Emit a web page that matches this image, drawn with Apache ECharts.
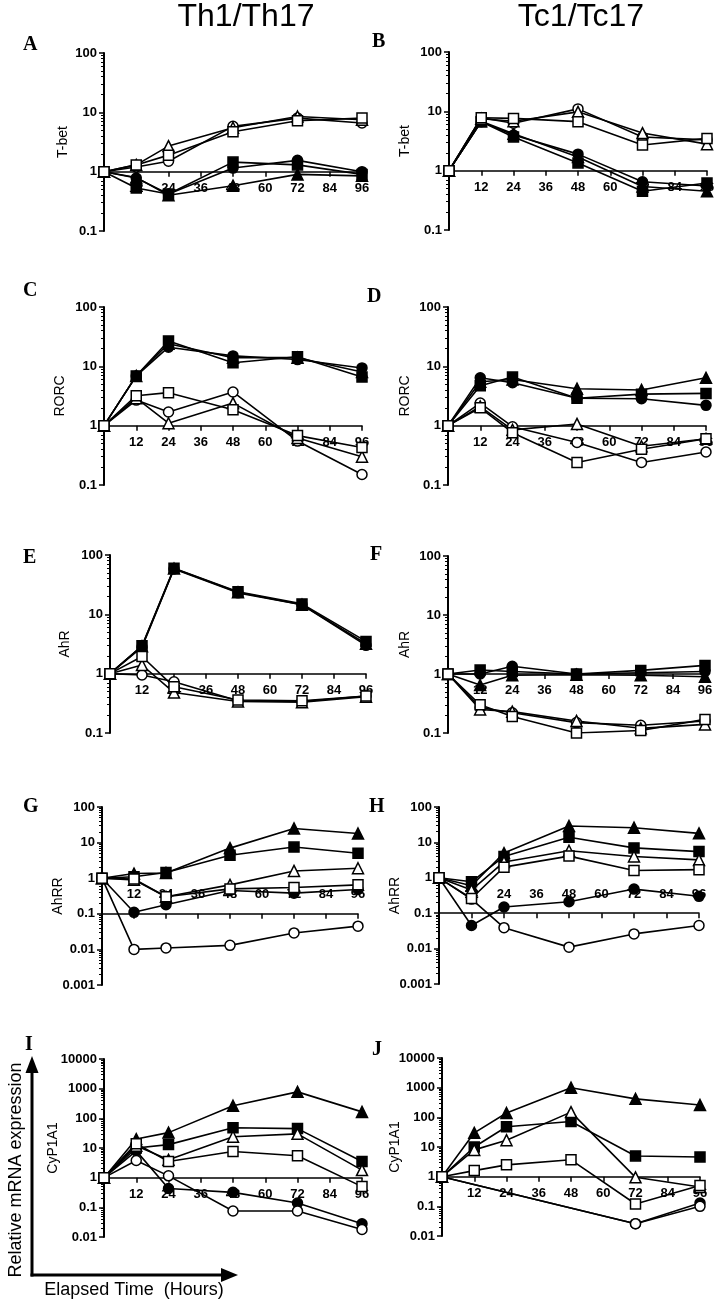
<!DOCTYPE html>
<html lang="en">
<head>
<meta charset="UTF-8">
<title>Relative mRNA expression</title>
<style>html,body{margin:0;padding:0;background:#fff;}</style>
</head>
<body>
<div id="main" style="width:725px;height:1306px;"></div>
<script src="https://cdn.jsdelivr.net/npm/echarts@6/dist/echarts.min.js"></script>
<script>
// elapsed time (hours)
var hours = [0, 12, 24, 48, 72, 96];

// row order in every panel: filled circle, open circle, filled square, open square, filled triangle, open triangle
var tbetTh = [
    [1, 0.78, 0.42, 1.15, 1.55, 1.0],
    [1, 1.2, 1.5, 5.8, 8.0, 6.6],
    [1, 0.53, 0.42, 1.45, 1.3, 0.9],
    [1, 1.3, 1.9, 4.7, 7.2, 8.0],
    [1, 0.8, 0.4, 0.58, 0.9, 0.85],
    [1, 1.3, 2.7, 5.5, 8.5, 7.5]
];
var tbetTc = [
    [1, 6.7, 4.0, 1.9, 0.65, 0.55],
    [1, 7.8, 6.3, 11, 3.7, 3.3],
    [1, 6.7, 3.7, 1.35, 0.45, 0.62],
    [1, 7.8, 7.6, 6.7, 2.7, 3.5],
    [1, 6.8, 4.2, 1.7, 0.54, 0.45],
    [1, 7.5, 6.8, 9.8, 4.3, 2.8]
];
var rorcTh = [
    [1, 6.9, 21, 15, 13, 9.4],
    [1, 2.7, 1.7, 3.7, 0.55, 0.15],
    [1, 6.9, 26.8, 11.5, 14.5, 6.6],
    [1, 3.2, 3.6, 1.85, 0.68, 0.43],
    [1, 6.9, 24, 14, 14, 8],
    [1, 2.9, 1.1, 2.4, 0.62, 0.3]
];
var rorcTc = [
    [1, 6.4, 5.3, 2.9, 2.85, 2.2],
    [1, 2.4, 0.96, 0.52, 0.24, 0.36],
    [1, 4.7, 6.6, 2.9, 3.4, 3.5],
    [1, 2.0, 0.76, 0.24, 0.4, 0.6],
    [1, 5.5, 6.0, 4.2, 4.0, 6.4],
    [1, 2.1, 0.85, 1.07, 0.45, 0.6]
];
var ahrTh = [
    [1, 2.8, 58, 23, 14.5, 3.0],
    [1, 0.95, 0.73, 0.35, 0.34, 0.42],
    [1, 2.95, 60, 24, 15, 3.5],
    [1, 1.95, 0.6, 0.36, 0.35, 0.42],
    [1, 2.9, 59, 23.5, 14.5, 3.2],
    [1, 1.4, 0.48, 0.34, 0.33, 0.41]
];
var ahrTc = [
    [1, 1.0, 1.35, 1.0, 1.05, 1.1],
    [1, 0.27, 0.22, 0.15, 0.135, 0.16],
    [1, 1.17, 1.1, 1.0, 1.15, 1.4],
    [1, 0.3, 0.19, 0.1, 0.11, 0.17],
    [1, 0.65, 0.95, 0.97, 0.95, 0.9],
    [1, 0.25, 0.23, 0.16, 0.12, 0.14]
];
var ahrrTh = [
    [1, 0.11, 0.18, 0.45, 0.38, 0.48],
    [1, 0.01, 0.011, 0.013, 0.029, 0.045],
    [1, 1.1, 1.45, 4.4, 7.5, 5],
    [1, 0.95, 0.3, 0.5, 0.55, 0.65],
    [1, 1.35, 1.4, 7, 25, 18],
    [1, 0.9, 0.3, 0.65, 1.6, 1.9]
];
var ahrrTc = [
    [1, 0.045, 0.15, 0.21, 0.48, 0.3],
    [1, 0.25, 0.039, 0.011, 0.026, 0.045],
    [1, 0.77, 4, 14, 7, 5.5],
    [1, 0.26, 2.0, 4.1, 1.6, 1.7],
    [1, 0.6, 5, 29, 26, 18],
    [1, 0.45, 2.8, 5.8, 4.0, 3.2]
];
var cypTh = [
    [1, 8, 0.43, 0.32, 0.14, 0.028],
    [1, 3.8, 1.15, 0.075, 0.075, 0.018],
    [1, 10, 13, 48, 45, 3.5],
    [1, 14, 3.5, 7.6, 5.5, 0.5],
    [1, 20, 33, 265, 780, 165],
    [1, 12, 4, 24, 30, 1.8]
];
var cypTc = [
    [1, null, null, null, 0.026, 0.13],
    [1, null, null, null, 0.026, 0.1],
    [1, 10, 48, 72, 5, 4.6],
    [1, 1.6, 2.5, 3.7, 0.12, 0.5],
    [1, 30, 140, 1000, 420, 260],
    [1, 8, 17, 150, 0.95, 0.45]
];

var panelData = [tbetTh, tbetTc, rorcTh, rorcTc, ahrTh, ahrTc, ahrrTh, ahrrTc, cypTh, cypTc];
var panelLetters = ['A', 'B', 'C', 'D', 'E', 'F', 'G', 'H', 'I', 'J'];
var geneNames = ['T-bet', 'T-bet', 'RORC', 'RORC', 'AhR', 'AhR', 'AhRR', 'AhRR', 'CyP1A1', 'CyP1A1'];
var yMins = [0.1, 0.1, 0.1, 0.1, 0.1, 0.1, 0.001, 0.001, 0.01, 0.01];
var yMaxs = [100, 100, 100, 100, 100, 100, 100, 100, 10000, 10000];
var columnTitles = ['Th1/Th17', 'Tc1/Tc17'];

// layout: [left, top, width, height] of each plot area, name gap, letter position
var rects = [
    [104, 53, 258, 178], [449, 52, 258, 178],
    [104, 307, 258, 178], [448, 307, 258, 178],
    [110, 555, 256, 178], [448, 556, 257, 177],
    [102, 807, 256, 178], [439, 807, 260, 177],
    [104, 1059, 258, 178], [442, 1058, 258, 178]
];
var nameGaps = [34, 37, 37, 36, 38, 36, 37, 37, 44, 40];
var letterPos = [[23, 45], [372, 42], [23, 291], [367, 297], [23, 558], [370, 555], [23, 807], [369, 807], [25, 1045], [372, 1050]];

var markers = [
    {symbol: 'circle', size: 10, fill: '#000'},
    {symbol: 'circle', size: 10, fill: '#fff'},
    {symbol: 'rect', size: 10, fill: '#000'},
    {symbol: 'rect', size: 10, fill: '#fff'},
    {symbol: 'triangle', size: 11, fill: '#000'},
    {symbol: 'triangle', size: 11, fill: '#fff'}
];
var drawOrder = [0, 2, 4, 1, 5, 3];

var myChart = echarts.init(document.getElementById('main'));

var grids = [], xAxes = [], yAxes = [], series = [];
var labelFont = {color: '#000', fontWeight: 'bold', fontSize: 13, fontFamily: '"Liberation Sans", Arial, sans-serif'};

panelData.forEach(function (rows, i) {
    var r = rects[i];
    grids.push({left: r[0], top: r[1], width: r[2], height: r[3], outerBoundsMode: 'none', containLabel: false});

    var lo = Math.log10(yMins[i]), hi = Math.log10(yMaxs[i]);
    // x axis crosses the y axis at 1
    var offset = -r[3] * (0 - lo) / (hi - lo);
    xAxes.push({
        type: 'value', gridIndex: i, min: 0, max: 96, interval: 12,
        position: 'bottom', offset: offset,
        axisLine: {show: true, lineStyle: {color: '#000', width: 1.5}},
        axisTick: {show: true, length: 5, lineStyle: {color: '#000', width: 1.5}},
        axisLabel: Object.assign({margin: 10, formatter: function (v) { return v === 0 ? '' : v; }}, labelFont),
        splitLine: {show: false}
    });

    yAxes.push({
        type: 'log', logBase: 10, gridIndex: i, min: yMins[i], max: yMaxs[i],
        position: 'left',
        name: geneNames[i], nameLocation: 'middle', nameRotate: 90, nameGap: nameGaps[i],
        nameMoveOverlap: false,
        nameTextStyle: {color: '#000', fontSize: 14, fontFamily: '"Liberation Sans", Arial, sans-serif'},
        axisLine: {show: true, lineStyle: {color: '#000', width: 2}},
        axisTick: {show: true, length: 5, lineStyle: {color: '#000', width: 1.5}},
        axisLabel: Object.assign({margin: 7, formatter: function (v) { return String(+Number(v).toPrecision(4)); }}, labelFont),
        splitLine: {show: false}
    });

    // minor ticks (2..9 in each decade) on a companion axis in log10 units
    var minor = [];
    for (var d = Math.round(lo); d < Math.round(hi); d++) {
        for (var k = 2; k <= 9; k++) minor.push(d + Math.log10(k));
    }
    yAxes.push({
        type: 'value', gridIndex: i, min: lo, max: hi, position: 'left',
        axisLine: {show: false},
        axisLabel: {show: false},
        splitLine: {show: false},
        axisTick: {show: true, length: 3, customValues: minor, lineStyle: {color: '#000', width: 1}}
    });

    drawOrder.forEach(function (s) {
        var m = markers[s];
        series.push({
            type: 'line',
            xAxisIndex: i,
            yAxisIndex: 2 * i,
            data: hours.map(function (h, k) { return [h, rows[s][k]]; }),
            connectNulls: true,
            symbol: m.symbol,
            symbolSize: m.size,
            showAllSymbol: true,
            lineStyle: {color: '#000', width: 1.6},
            itemStyle: {color: m.fill, borderColor: '#000', borderWidth: 1.5, opacity: 1},
            emphasis: {disabled: true},
            silent: true,
            animation: false
        });
    });
});

var graphics = [];
columnTitles.forEach(function (t, c) {
    graphics.push({
        type: 'text', x: c === 0 ? 246 : 581, y: 17,
        style: {text: t, fontSize: 32, fontFamily: '"Liberation Sans", Arial, sans-serif', fill: '#000', align: 'center', verticalAlign: 'middle'}
    });
});
panelLetters.forEach(function (l, i) {
    graphics.push({
        type: 'text', x: letterPos[i][0], y: letterPos[i][1],
        style: {text: l, fontSize: 20, fontWeight: 'bold', fontFamily: '"Liberation Serif", "Times New Roman", serif', fill: '#000', align: 'left', verticalAlign: 'middle'}
    });
});
// axes arrows at bottom left
graphics.push(
    {type: 'line', shape: {x1: 32, y1: 1276.5, x2: 32, y2: 1068}, style: {stroke: '#000', lineWidth: 3}},
    {type: 'polygon', shape: {points: [[32, 1056], [25.5, 1073], [38.5, 1073]]}, style: {fill: '#000'}},
    {type: 'line', shape: {x1: 30.5, y1: 1275, x2: 225, y2: 1275}, style: {stroke: '#000', lineWidth: 3}},
    {type: 'polygon', shape: {points: [[238, 1275], [221, 1268], [221, 1282]]}, style: {fill: '#000'}},
    {
        type: 'text', x: 16, y: 1170, rotation: Math.PI / 2,
        style: {text: 'Relative mRNA expression', fontSize: 18, fontFamily: '"Liberation Sans", Arial, sans-serif', fill: '#000', align: 'center', verticalAlign: 'middle'}
    },
    {
        type: 'text', x: 134, y: 1290,
        style: {text: 'Elapsed Time  (Hours)', fontSize: 18, fontFamily: '"Liberation Sans", Arial, sans-serif', fill: '#000', align: 'center', verticalAlign: 'middle'}
    }
);

var option = {
    backgroundColor: '#fff',
    animation: false,
    grid: grids,
    xAxis: xAxes,
    yAxis: yAxes,
    series: series,
    graphic: graphics
};

myChart.setOption(option);
</script>
</body>
</html>
